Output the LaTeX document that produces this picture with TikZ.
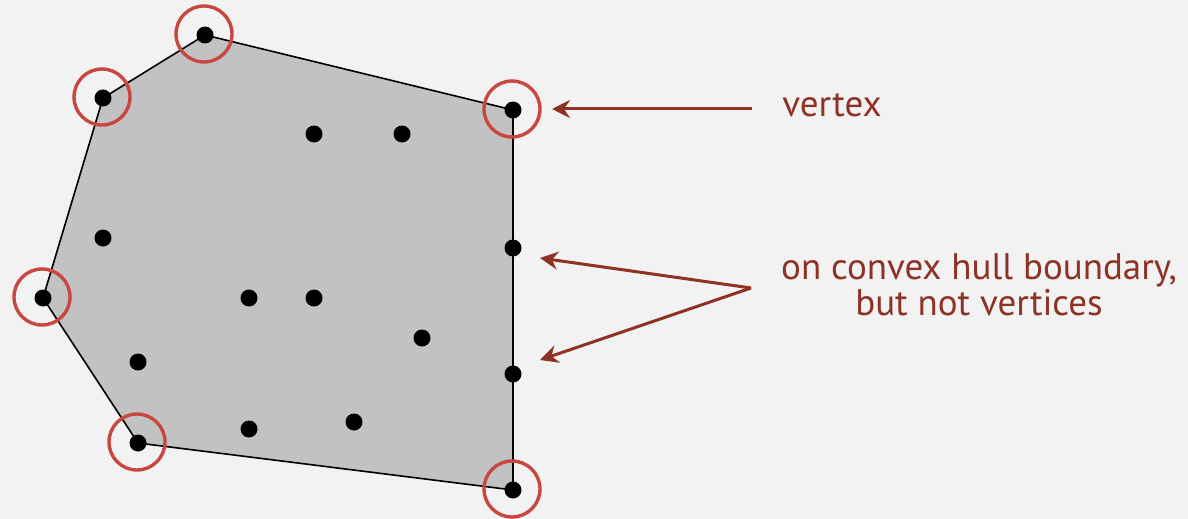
\documentclass[tikz,border=0pt]{standalone}
\usepackage{fontspec}
\setmainfont{PT Sans}
\usetikzlibrary{arrows.meta}
\definecolor{bg}{HTML}{F2F2F2}
\definecolor{hullfill}{HTML}{C2C2C2}
\definecolor{ringred}{HTML}{C8473F}
\definecolor{labelred}{HTML}{8E3226}
\tikzset{
  pt/.style={circle, fill=black, inner sep=0pt, minimum size=8.5pt},
  ring/.style={draw=ringred, line width=1.7pt, circle, inner sep=0pt, minimum size=28pt},
  pointer/.style={draw=labelred, line width=1.5pt, -{Stealth[length=9pt, width=9pt, inset=3pt]}},
  lbl/.style={text=labelred, font=\fontsize{18.5}{16.5}\selectfont, align=center, inner sep=0pt}
}
\begin{document}
\begin{tikzpicture}[x=0.5pt, y=-0.5pt]
  \fill[bg] (0,0) rectangle (1188,519);
  \useasboundingbox (0,0) rectangle (1188,519);
  % hull vertices
  \coordinate (v1) at (205,35);
  \coordinate (v2) at (103,98);
  \coordinate (v3) at (43,298);
  \coordinate (v4) at (138,443);
  \coordinate (v5) at (513,490);
  \coordinate (v6) at (513,110);
  \filldraw[fill=hullfill, draw=black, line width=0.8pt, line join=round]
    (v1) -- (v2) -- (v3) -- (v4) -- (v5) -- (v6) -- cycle;
  % all points
  \foreach \n in {v1,v2,v3,v4,v5,v6} \node[pt] (p\n) at (\n) {};
  \node[pt] (b1) at (513,248) {};
  \node[pt] (b2) at (513,374) {};
  \node[pt] (i1) at (314,134) {};
  \node[pt] (i2) at (402,134) {};
  \node[pt] (i3) at (103,238) {};
  \node[pt] (i4) at (249,298) {};
  \node[pt] (i5) at (314,298) {};
  \node[pt] (i6) at (422,338) {};
  \node[pt] (i7) at (138,362) {};
  \node[pt] (i8) at (249,429) {};
  \node[pt] (i9) at (354,422) {};
  % rings around the hull vertices
  \foreach \n in {v1,v2,v3,v4,v5,v6} \node[ring] (r\n) at ([shift={(-1,-1)}]\n) {};
  % labels
  \node[lbl] (tv) at (832,105) {vertex};
  \node[lbl] (tb) at (979,285) {on convex hull boundary,\\but not vertices};
  \coordinate (sv) at (752,109);
  \coordinate (ev) at (552,109);
  \coordinate (sb) at (751,288);
  \coordinate (eb1) at (540,258);
  \coordinate (eb2) at (540,360);
  \draw[pointer] (sv) -- (ev);
  \draw[pointer] (sb) -- (eb1);
  \draw[pointer] (sb) -- (eb2);
\end{tikzpicture}
\end{document}
